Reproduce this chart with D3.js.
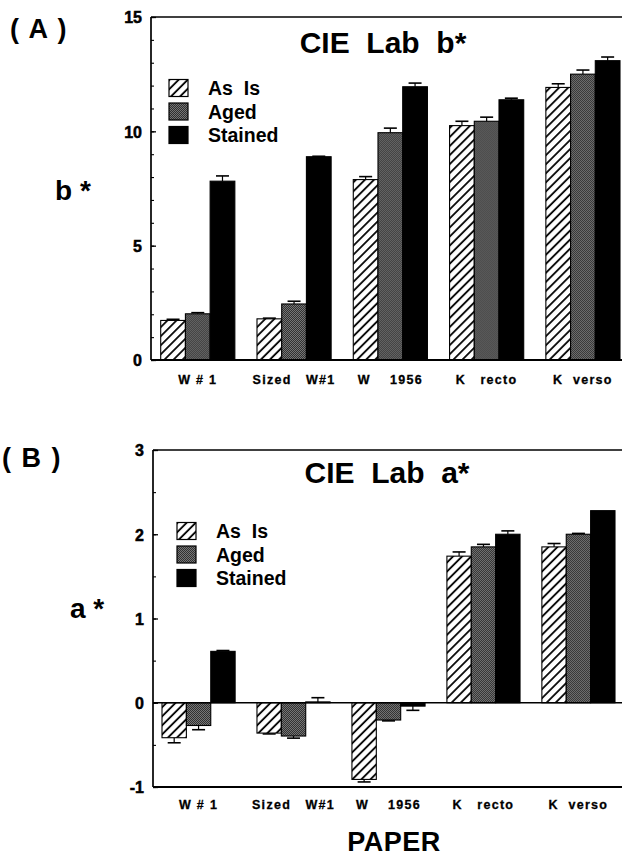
<!DOCTYPE html>
<html>
<head>
<meta charset="utf-8">
<script src="https://cdn.jsdelivr.net/npm/d3@7"></script>
<style>
  body { margin: 0; background: #fff; }
  svg { display: block; font-family: "Liberation Sans", Arial, sans-serif; font-weight: bold; }
</style>
</head>
<body>
<div id="chart"></div>
<script>
// Données
const groups = ["W # 1", "Sized   W#1", "W    1956", "K   recto", "K  verso"];
const series = ["As Is", "Aged", "Stained"];

// b* (panneau A)
const bValues = [
  [1.73, 2.02, 7.82],
  [1.80, 2.45, 8.89],
  [7.89, 9.94, 11.95],
  [10.25, 10.44, 11.38],
  [11.92, 12.50, 13.09]
];
const bErrors = [
  [0.05, 0.05, 0.23],
  [0.03, 0.12, 0.02],
  [0.13, 0.20, 0.16],
  [0.19, 0.18, 0.07],
  [0.16, 0.18, 0.16]
];
const bTicks = [0, 5, 10, 15];

// a* (panneau B)
const aValues = [
  [-0.415, -0.27, 0.61],
  [-0.36, -0.395, 0.01],
  [-0.91, -0.205, -0.04],
  [1.74, 1.85, 2.00],
  [1.85, 2.00, 2.28]
];
const aErrors = [
  [0.06, 0.05, 0.01],
  [0.01, 0.025, 0.05],
  [0.03, 0.01, 0.05],
  [0.05, 0.03, 0.04],
  [0.04, 0.01, 0.00]
];
const aTicks = [-1, 0, 1, 2, 3];

const W = 622, H = 856;
const FONT = "'Liberation Sans', Arial, sans-serif";

const svg = d3.select("#chart").append("svg")
  .attr("width", W)
  .attr("height", H);

svg.append("rect").attr("width", W).attr("height", H).attr("fill", "#fff");

// Motifs
const defs = svg.append("defs");
const hatch = defs.append("pattern")
  .attr("id", "hatch")
  .attr("patternUnits", "userSpaceOnUse")
  .attr("width", 6.4)
  .attr("height", 6.4)
  .attr("patternTransform", "rotate(45)");
hatch.append("rect").attr("width", 6.4).attr("height", 6.4).attr("fill", "#fff");
hatch.append("line")
  .attr("x1", 1).attr("y1", 0).attr("x2", 1).attr("y2", 6.4)
  .attr("stroke", "#000").attr("stroke-width", 1.8);

const stipple = defs.append("pattern")
  .attr("id", "stipple")
  .attr("patternUnits", "userSpaceOnUse")
  .attr("width", 2)
  .attr("height", 2);
stipple.append("rect").attr("width", 2).attr("height", 2).attr("fill", "#767676");
stipple.append("rect").attr("width", 1).attr("height", 1).attr("fill", "#303030");
stipple.append("rect").attr("x", 1).attr("y", 1).attr("width", 1).attr("height", 1).attr("fill", "#303030");

const fills = ["url(#hatch)", "url(#stipple)", "#000"];

function drawPanel(o) {
  const g = svg.append("g");

  const y = d3.scaleLinear().domain(o.domain).range(o.yRange);
  const x0 = d3.scaleBand().domain(groups).range(o.xRange).paddingInner(0.23).paddingOuter(0);
  const x1 = d3.scaleBand().domain(series).range([0, x0.bandwidth()]);

  // Barres
  groups.forEach((grp, gi) => {
    const gg = g.append("g").attr("transform", `translate(${x0(grp)},0)`);
    series.forEach((s, si) => {
      const v = o.values[gi][si];
      const e = o.errors[gi][si];
      const bx = x1(s);
      const bw = x1.bandwidth();
      const top = y(Math.max(0, v)), bot = y(Math.min(0, v));

      // Barre d'erreur
      const tip = v >= 0 ? y(v + e) : y(v - e);
      const end = y(v);
      if (e > 0) {
        gg.append("line")
          .attr("x1", bx + bw / 2).attr("x2", bx + bw / 2)
          .attr("y1", end).attr("y2", tip)
          .attr("stroke", "#000").attr("stroke-width", 1.2);
        gg.append("line")
          .attr("x1", bx + bw / 2 - 6.5).attr("x2", bx + bw / 2 + 6.5)
          .attr("y1", tip).attr("y2", tip)
          .attr("stroke", "#000").attr("stroke-width", 1.6);
      }

      gg.append("rect")
        .attr("x", bx)
        .attr("y", top)
        .attr("width", bw)
        .attr("height", Math.max(0.5, bot - top))
        .attr("fill", fills[si])
        .attr("stroke", "#000")
        .attr("stroke-width", 1.1);
    });
  });

  // Cadre
  const left = o.axisX;
  g.append("line")
    .attr("x1", left).attr("x2", W)
    .attr("y1", y(o.domain[1])).attr("y2", y(o.domain[1]))
    .attr("stroke", "#000").attr("stroke-width", 1.5);
  g.append("line")
    .attr("x1", left).attr("x2", W)
    .attr("y1", y(o.domain[0])).attr("y2", y(o.domain[0]))
    .attr("stroke", "#000").attr("stroke-width", 1.8);
  if (o.domain[0] < 0) {
    g.append("line")
      .attr("x1", left).attr("x2", W)
      .attr("y1", y(0)).attr("y2", y(0))
      .attr("stroke", "#000").attr("stroke-width", 1.6);
  }

  // Axe Y (graduations vers l'intérieur)
  const yAxis = g.append("g")
    .attr("transform", `translate(${left},0)`)
    .call(d3.axisLeft(y).tickValues(o.ticks).tickSize(-5).tickPadding(9).tickFormat(d => String(d)));
  yAxis.select(".domain").attr("stroke-width", 1.7).attr("d", `M0,${y(o.domain[0])}V${y(o.domain[1])}`);
  yAxis.selectAll(".tick line").attr("stroke-width", 1.3);
  yAxis.selectAll(".tick text")
    .attr("font-size", 16)
    .attr("font-weight", "bold")
    .attr("font-family", FONT)
    .attr("dy", "0.36em")
    .attr("fill", "#000")
    .attr("stroke", "#000")
    .attr("stroke-width", 0.5);

  g.append("g")
    .attr("transform", `translate(${left},0)`)
    .call(d3.axisLeft(y).tickValues(o.minor).tickSize(-3).tickFormat(""))
    .call(a => a.select(".domain").remove())
    .selectAll(".tick line").attr("stroke-width", 1.1);

  // Étiquettes X
  g.selectAll(".xlab")
    .data(groups)
    .enter()
    .append("text")
    .attr("class", "xlab")
    .attr("x", d => x0(d) + x0.bandwidth() / 2)
    .attr("y", o.xLabelY)
    .attr("text-anchor", "middle")
    .attr("stroke", "#000")
    .attr("stroke-width", 0.3)
    .style("white-space", "pre")
    .style("font-size", "12.5px")
    .style("letter-spacing", "1.3px")
    .text(d => d);

  // Titre
  g.append("text")
    .attr("x", o.titleX)
    .attr("y", o.titleY)
    .attr("text-anchor", "middle")
    .style("white-space", "pre")
    .style("font-size", "30px")
    .text(o.title);

  // Lettre du panneau
  g.append("text")
    .attr("x", o.letterX)
    .attr("y", o.letterY)
    .style("white-space", "pre")
    .style("font-size", "27px")
    .style("letter-spacing", "1.5px")
    .text(o.letter);

  // Label Y
  g.append("text")
    .attr("x", o.ylabX)
    .attr("y", o.ylabY)
    .style("white-space", "pre")
    .style("font-size", "28px")
    .text(o.ylab);

  // Légende
  const legend = g.append("g").attr("transform", `translate(${o.legX},${o.legY})`);
  series.forEach((s, i) => {
    legend.append("rect")
      .attr("x", 0)
      .attr("y", i * 23.5 - 8.5)
      .attr("width", 19)
      .attr("height", 17)
      .attr("fill", fills[i])
      .attr("stroke", "#000")
      .attr("stroke-width", 1.2);
    legend.append("text")
      .attr("x", 39)
      .attr("y", i * 23.5 + 7)
      .style("white-space", "pre")
      .style("font-size", "19.5px")
      .text(s === "As Is" ? "As  Is" : s);
  });
}

// Panneau A
drawPanel({
  domain: [0, 15],
  yRange: [360, 17],
  xRange: [160.7, 620],
  axisX: 151,
  ticks: bTicks,
  minor: d3.range(0, 16, 1),
  values: bValues,
  errors: bErrors,
  xLabelY: 384,
  title: "CIE  Lab  b*",
  titleX: 383,
  titleY: 53,
  letter: "( A )",
  letterX: 10,
  letterY: 38,
  ylab: "b *",
  ylabX: 55,
  ylabY: 200,
  legX: 169,
  legY: 88
});

// Panneau B
drawPanel({
  domain: [-1, 3],
  yRange: [787, 450],
  xRange: [162, 615],
  axisX: 153,
  ticks: aTicks,
  minor: d3.range(-1, 3.01, 0.5),
  values: aValues,
  errors: aErrors,
  xLabelY: 809,
  title: "CIE  Lab  a*",
  titleX: 387,
  titleY: 483,
  letter: "( B )",
  letterX: 2,
  letterY: 467,
  ylab: "a *",
  ylabX: 70,
  ylabY: 618,
  legX: 177,
  legY: 531
});

// Titre de l'axe X
svg.append("text")
  .attr("x", 394)
  .attr("y", 851)
  .attr("text-anchor", "middle")
  .style("font-size", "27px")
  .style("letter-spacing", "0.5px")
  .text("PAPER");
</script>
</body>
</html>
